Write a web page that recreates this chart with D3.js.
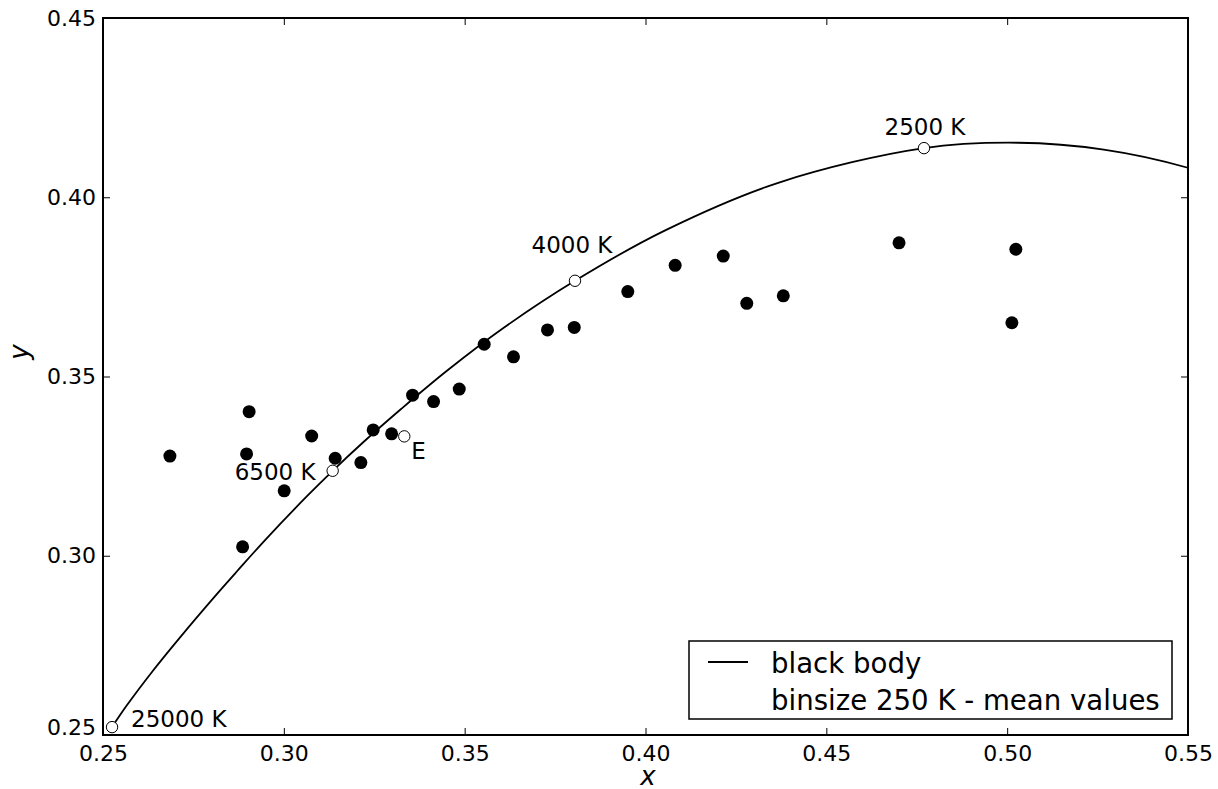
<!DOCTYPE html>
<html>
<head>
<meta charset="utf-8">
<script src="https://cdn.jsdelivr.net/npm/d3@7"></script>
<style>
  body { margin: 0; background: #fff; }
  svg { display: block; font-family: "DejaVu Sans", sans-serif; }
</style>
</head>
<body>
<div class="chart"></div>
<script>
// black body (Planckian) locus, chromaticity
const locusX = [0.2525, 0.2564, 0.2637, 0.2716, 0.2807, 0.2870, 0.2952, 0.3064, 0.3135, 0.3221, 0.3325, 0.3451, 0.3608, 0.3805, 0.4053, 0.4369, 0.4770, 0.5030, 0.5267, 0.5497, 0.5646];
const locusY = [0.2522, 0.2580, 0.2678, 0.2776, 0.2884, 0.2956, 0.3048, 0.3166, 0.3237, 0.3318, 0.3410, 0.3516, 0.3636, 0.3767, 0.3907, 0.4041, 0.4137, 0.4152, 0.4133, 0.4083, 0.4029];

// binsize 250 K - mean values
const meanX = [0.2685, 0.2897, 0.2904, 0.2886, 0.3001, 0.3077, 0.3142, 0.3213, 0.3247, 0.3298, 0.3356, 0.3414, 0.3485, 0.3554, 0.3635, 0.3729, 0.3803, 0.3951, 0.4082, 0.4215, 0.4280, 0.4381, 0.4701, 0.5024, 0.5013];
const meanY = [0.3278, 0.3284, 0.3402, 0.3025, 0.3181, 0.3334, 0.3272, 0.3260, 0.3351, 0.3340, 0.3448, 0.3430, 0.3465, 0.3590, 0.3555, 0.3630, 0.3637, 0.3737, 0.3810, 0.3836, 0.3704, 0.3725, 0.3873, 0.3855, 0.3650];

// marked temperatures on the locus + equal energy point
const markLabels = ["25000 K", "6500 K", "4000 K", "2500 K", "E"];
const markX = [0.2525, 0.3135, 0.3805, 0.4770, 0.3333];
const markY = [0.2522, 0.3237, 0.3767, 0.4137, 0.3333];

const xTicks = [0.25, 0.30, 0.35, 0.40, 0.45, 0.50, 0.55];
const yTicks = [0.25, 0.30, 0.35, 0.40, 0.45];

const W = 1218, H = 789;
const plotL = 103, plotR = 1188, plotT = 18, plotB = 735;

const svg = d3.select('.chart')
    .append('svg')
        .attr("width", W)
        .attr("height", H)

const xScale = d3.scaleLinear().domain([0.25, 0.55]).range([plotL, plotR]);
const yScale = d3.scaleLinear().domain([0.25, 0.45]).range([plotB, plotT]);
const fmt = d3.format(".2f");

svg.append("defs").append("clipPath").attr("id", "plot")
    .append("rect")
        .attr("x", plotL).attr("y", plotT)
        .attr("width", plotR - plotL).attr("height", plotB - plotT);

// curve
const locus = locusX.map((x, i) => [x, locusY[i]]);
svg.append("path")
    .datum(locus)
    .attr("clip-path", "url(#plot)")
    .attr("fill", "none")
    .attr("stroke", "#000")
    .attr("stroke-width", 1.8)
    .attr("d", d3.line()
        .x(d => xScale(d[0]))
        .y(d => yScale(d[1]))
        .curve(d3.curveCatmullRom));

// mean values
svg.selectAll('.mean')
    .data(meanX.map((x, i) => ({x: x, y: meanY[i]})))
    .join("circle")
    .attr("class", "mean")
    .attr("cx", d => xScale(d.x))
    .attr("cy", d => yScale(d.y))
    .attr("r", 6.5)
    .attr("fill", "#000");

// open markers
const marks = markLabels.map((l, i) => ({label: l, x: markX[i], y: markY[i]}));
svg.selectAll('.mark')
    .data(marks)
    .join("circle")
    .attr("class", "mark")
    .attr("clip-path", "url(#plot)")
    .attr("cx", d => xScale(d.x))
    .attr("cy", d => yScale(d.y))
    .attr("r", 5.7)
    .attr("fill", "#fff")
    .attr("stroke", "#000")
    .attr("stroke-width", 1);

// label placement relative to the point
const labelPos = {
    "25000 K": {dx: 19, dy: 0, anchor: "start"},
    "6500 K": {dx: -17, dy: 9, anchor: "end"},
    "4000 K": {dx: -3, dy: -28, anchor: "middle"},
    "2500 K": {dx: 1, dy: -13, anchor: "middle"},
    "E": {dx: 7, dy: 23, anchor: "start"}
};
svg.selectAll('.mark-label')
    .data(marks)
    .join("text")
    .attr("class", "mark-label")
    .attr("x", d => xScale(d.x) + labelPos[d.label].dx)
    .attr("y", d => yScale(d.y) + labelPos[d.label].dy)
    .attr("text-anchor", d => labelPos[d.label].anchor)
    .attr("font-size", 23)
    .text(d => d.label);

// axes, ticks pointing inward on all four sides
const styleAxis = g => {
    g.select(".domain").remove();
    g.selectAll(".tick line").attr("stroke", "#000").attr("stroke-width", 1);
    g.selectAll(".tick text").attr("fill", "#000").attr("font-size", 22)
        .attr("font-family", "DejaVu Sans, sans-serif");
};
svg.append("g").attr("transform", `translate(0,${plotB})`)
    .call(d3.axisBottom(xScale).tickValues(xTicks).tickFormat(fmt).tickSizeInner(-7).tickSizeOuter(0).tickPadding(10))
    .call(styleAxis);
svg.append("g").attr("transform", `translate(0,${plotT})`)
    .call(d3.axisTop(xScale).tickValues(xTicks).tickFormat("").tickSizeInner(-7).tickSizeOuter(0))
    .call(styleAxis);
const yAxisG = svg.append("g").attr("transform", `translate(${plotL},0)`)
    .call(d3.axisLeft(yScale).tickValues(yTicks).tickFormat(fmt).tickSizeInner(-7).tickSizeOuter(0).tickPadding(7))
    .call(styleAxis);
// lowest y label sits on its baseline, as in the original
yAxisG.selectAll(".tick text").filter(d => d === 0.25).attr("dy", "0").attr("y", -1);
svg.append("g").attr("transform", `translate(${plotR},0)`)
    .call(d3.axisRight(yScale).tickValues(yTicks).tickFormat("").tickSizeInner(-7).tickSizeOuter(0))
    .call(styleAxis);

// frame
svg.append("rect")
    .attr("x", plotL).attr("y", plotT)
    .attr("width", plotR - plotL).attr("height", plotB - plotT)
    .attr("fill", "none").attr("stroke", "#000").attr("stroke-width", 2);

// axis titles
svg.append("text")
    .attr("x", 648).attr("y", 785)
    .attr("text-anchor", "middle")
    .attr("font-size", 26).attr("font-style", "italic")
    .text("x");
svg.append("text")
    .attr("transform", `translate(28,352) rotate(-90)`)
    .attr("text-anchor", "middle")
    .attr("font-size", 26).attr("font-style", "italic")
    .text("y");

// legend
const legend = svg.append("g");
legend.append("rect")
    .attr("x", 689).attr("y", 641).attr("width", 483).attr("height", 78)
    .attr("fill", "#fff").attr("stroke", "#000").attr("stroke-width", 1.5);
legend.append("line")
    .attr("x1", 708).attr("x2", 748).attr("y1", 662).attr("y2", 662)
    .attr("stroke", "#000").attr("stroke-width", 1.8);
legend.append("text").attr("x", 771).attr("y", 673).attr("font-size", 27.6).text("black body");
legend.append("text").attr("x", 771).attr("y", 710).attr("font-size", 27.6).text("binsize 250 K - mean values");
</script>
</body>
</html>
